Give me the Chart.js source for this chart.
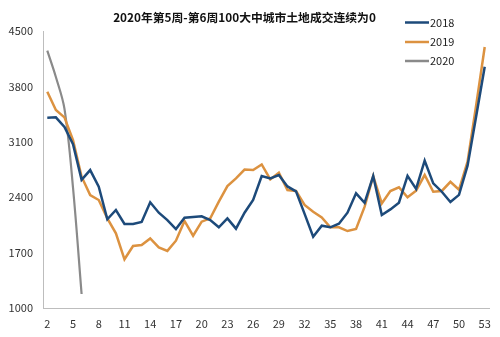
<!DOCTYPE html>
<html>
<head>
<meta charset="utf-8">
<script src="https://cdn.jsdelivr.net/npm/chart.js@4"></script>
<style>
html,body{margin:0;padding:0;background:#fff;}
#wrap{width:500px;height:337px;position:relative;}
</style>
</head>
<body>
<div id="wrap"><canvas id="c" width="500" height="337"></canvas></div>
<script>
const weeks = [2,3,4,5,6,7,8,9,10,11,12,13,14,15,16,17,18,19,20,21,22,23,24,25,26,27,28,29,30,31,32,33,34,35,36,37,38,39,40,41,42,43,44,45,46,47,48,49,50,51,52,53];
const s2018 = [3405,3410,3290,3070,2620,2744,2533,2121,2239,2062,2062,2087,2336,2205,2112,1998,2141,2150,2159,2112,2020,2133,2003,2205,2365,2668,2639,2680,2537,2474,2190,1901,2040,2020,2066,2205,2450,2331,2668,2175,2247,2331,2670,2505,2862,2576,2470,2340,2430,2800,3420,4050];
const s2019 = [3734,3503,3410,3124,2660,2428,2365,2134,1944,1616,1784,1796,1880,1767,1722,1851,2100,1914,2091,2134,2344,2542,2639,2750,2744,2815,2626,2710,2492,2479,2302,2217,2146,2020,2020,1973,1999,2281,2668,2323,2479,2526,2399,2483,2681,2470,2480,2595,2495,2850,3560,4300];
const s2020 = [4253,3920,3520,2520,1177];
const seriesNames = ['2018','2019','2020'];
const titleText = '2020年第5周-第6周100大中城市土地成交连续为0';
const yMin = 1000, yMax = 4500, yStep = 700;

const colors = ['#1d4a7a','#dc9240','#8a8a8a'];
const FONT = "'Noto Sans CJK SC', 'Noto Sans', sans-serif";

const legendPlugin = {
  id: 'inlineLegend',
  afterDraw(chart) {
    const ctx = chart.ctx;
    const ys = [22.5, 42, 61];
    ctx.save();
    chart.data.datasets.forEach((ds, i) => {
      ctx.strokeStyle = ds.borderColor;
      ctx.lineWidth = 2.5;
      ctx.beginPath();
      ctx.moveTo(405, ys[i]);
      ctx.lineTo(429, ys[i]);
      ctx.stroke();
      ctx.fillStyle = '#222';
      ctx.font = "11px " + FONT;
      ctx.textBaseline = 'middle';
      ctx.textAlign = 'left';
      ctx.fillText(ds.label, 430, ys[i]);
    });
    ctx.restore();
  }
};

new Chart(document.getElementById('c'), {
  type: 'line',
  data: {
    labels: weeks.map(String),
    datasets: [
      {label: seriesNames[0], data: s2018, borderColor: colors[0], borderWidth: 2.5, pointRadius: 0, tension: 0, fill: false},
      {label: seriesNames[1], data: s2019, borderColor: colors[1], borderWidth: 2.5, pointRadius: 0, tension: 0, fill: false},
      {label: seriesNames[2], data: s2020, borderColor: colors[2], borderWidth: 2.2, pointRadius: 0, tension: 0.35, fill: false}
    ]
  },
  options: {
    responsive: false,
    animation: false,
    devicePixelRatio: 1,
    layout: {padding: {left: 0, right: 11, top: 0, bottom: 0}},
    plugins: {
      legend: {display: false},
      tooltip: {enabled: false},
      title: {
        display: true,
        text: titleText,
        color: '#111',
        font: {family: FONT, size: 11.8, weight: 'bold'},
        padding: {top: 10.5, bottom: 6.5}
      }
    },
    scales: {
      x: {
        type: 'category',
        offset: true,
        grid: {display: false, drawTicks: false},
        border: {display: true, color: '#bdbdbd', width: 1},
        ticks: {
          autoSkip: false,
          maxRotation: 0,
          padding: 9,
          color: '#333',
          font: {family: FONT, size: 11},
          callback: function(v, i) { return i % 3 === 0 ? this.getLabelForValue(v) : ''; }
        },
        afterFit(scale) { scale.height = 29; }
      },
      y: {
        min: yMin,
        max: yMax,
        grid: {display: false, drawTicks: false},
        border: {display: true, color: '#bdbdbd', width: 1},
        ticks: {
          stepSize: yStep,
          padding: 10,
          color: '#333',
          font: {family: FONT, size: 11},
          callback: (v) => String(v)
        },
        afterFit(scale) { scale.width = 43; }
      }
    }
  },
  plugins: [legendPlugin]
});
</script>
</body>
</html>
